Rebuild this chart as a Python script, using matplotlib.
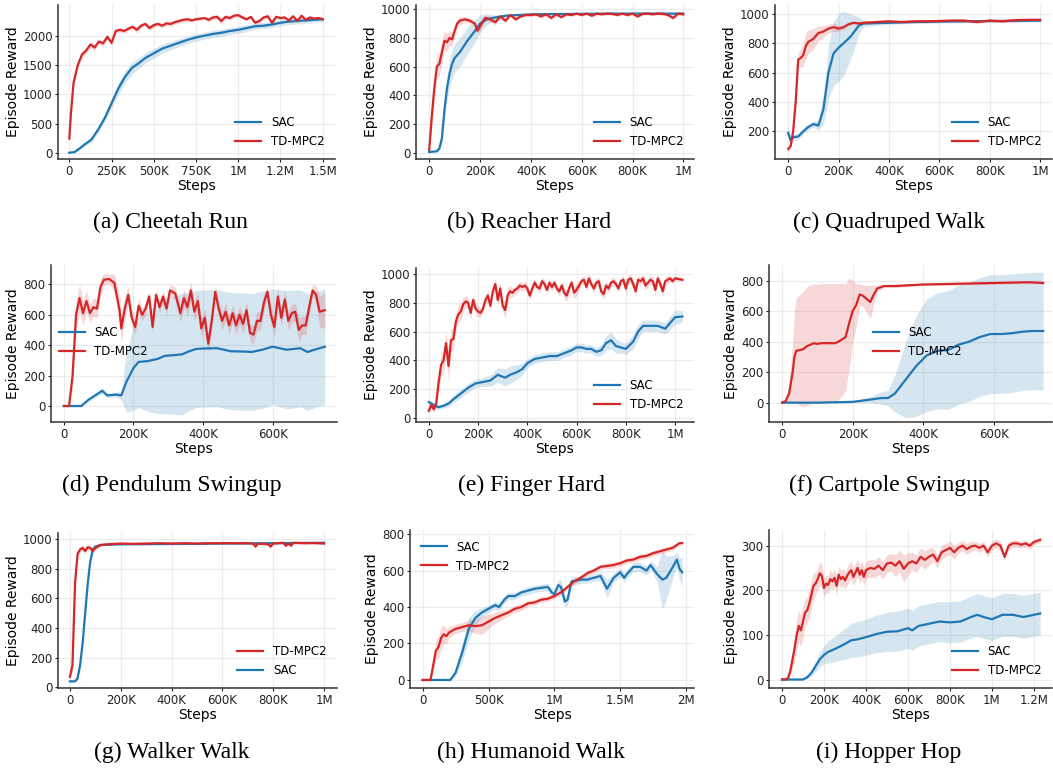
import matplotlib
matplotlib.use("Agg")
import matplotlib.pyplot as plt
from matplotlib.ticker import FuncFormatter
import numpy as np

# each series: (step in K, mean reward, half width of the shaded band)
cheetah_sac = [(0,10,5),(30,20,10),(60,80,20),(90,150,30),(130,230,40),(170,400,50),(210,600,60),(250,850,80),
               (290,1100,100),(330,1300,100),(370,1450,100),(410,1530,90),(450,1620,90),(500,1700,80),(550,1780,80),
               (600,1830,70),(650,1880,70),(700,1930,60),(750,1970,60),(800,2000,60),(850,2030,60),(900,2050,60),
               (950,2080,60),(1000,2100,60),(1050,2130,60),(1100,2160,50),(1150,2170,50),(1200,2190,50),
               (1250,2220,50),(1300,2240,50),(1350,2250,50),(1400,2260,50),(1450,2270,40),(1500,2280,40)]
cheetah_td = [(0,250,20),(10,700,60),(25,1200,80),(50,1500,60),(75,1680,50),(100,1750,50),(125,1850,60),(150,1800,50),
              (175,1900,40),(200,1870,50),(225,1980,40),(250,1880,50),(275,2080,40),(300,2100,40),(325,2080,40),
              (350,2120,40),(375,2150,40),(400,2100,50),(425,2170,40),(450,2200,40),(475,2130,50),(500,2180,40),
              (525,2200,40),(550,2170,40),(575,2210,40),(600,2200,40),(625,2230,40),(650,2250,40),(675,2270,40),
              (700,2280,30),(725,2260,30),(750,2280,30),(775,2290,30),(800,2300,30),(825,2270,40),(850,2310,40),
              (875,2320,40),(900,2250,60),(925,2320,40),(950,2300,40),(975,2340,30),(1000,2350,30),(1025,2310,30),
              (1050,2280,30),(1075,2320,30),(1100,2220,40),(1125,2250,40),(1150,2310,40),(1175,2330,30),
              (1200,2220,40),(1225,2320,30),(1250,2300,30),(1275,2310,30),(1300,2260,30),(1325,2330,30),
              (1350,2250,30),(1375,2340,30),(1400,2270,30),(1425,2310,30),(1450,2290,30),(1475,2300,30),(1500,2280,20)]

reacher_sac = [(0,5,5),(30,10,5),(40,30,10),(50,100,30),(60,300,60),(70,450,80),(80,550,100),(90,620,100),
               (100,660,100),(120,700,100),(150,780,90),(180,850,80),(200,900,60),(225,930,40),(250,940,20),
               (300,955,10),(350,960,5),(400,965,5),(500,967,5),(600,968,5),(700,970,5),(800,970,5),(900,970,5),(1000,970,5)]
reacher_td = [(0,20,10),(10,250,80),(20,450,80),(30,600,80),(40,620,80),(50,700,80),(60,780,70),(70,770,60),(80,800,50),
              (90,790,50),(100,850,40),(110,900,30),(120,920,30),(140,930,20),(160,920,20),(180,900,20),(190,850,20),
              (200,880,30),(220,940,20),(240,930,20),(260,910,20),(280,950,15),(300,920,15),(320,960,10),(340,930,15),
              (360,950,10),(380,960,10),(400,960,10),(420,965,10),(440,950,10),(460,965,10),(480,940,15),(500,965,10),
              (520,945,10),(540,965,10),(560,960,10),(580,970,10),(600,960,10),(620,970,10),(640,955,10),(660,970,10),
              (680,965,10),(700,970,10),(720,968,10),(740,960,10),(760,970,10),(780,960,10),(800,970,10),(820,950,10),
              (840,968,10),(860,970,10),(880,965,10),(900,970,10),(920,968,10),(940,960,10),(960,940,15),(980,970,10),
              (1000,965,10)]

quad_sac = [(0,190,40),(10,140,30),(20,160,20),(40,165,20),(60,200,20),(80,230,20),(100,250,20),(120,240,30),
            (140,350,100),(160,600,180),(180,730,220),(200,770,230),(220,800,220),(250,850,150),(280,920,60),
            (300,935,20),(400,940,10),(500,945,10),(600,948,10),(700,950,10),(800,952,10),(900,953,10),(1000,955,10)]
quad_td = [(0,80,15),(10,100,20),(20,200,30),(30,400,40),(40,690,50),(50,700,60),(60,720,80),(70,780,90),(80,810,80),
           (100,830,70),(120,870,50),(140,880,40),(160,900,30),(180,910,30),(200,900,20),(220,910,15),(240,930,10),
           (260,940,10),(280,935,10),(300,940,10),(350,945,10),(400,950,10),(450,945,10),(500,950,10),(550,950,10),
           (600,952,10),(650,955,10),(700,955,10),(750,945,10),(800,955,10),(850,950,10),(900,958,10),(950,960,10),
           (1000,960,10)]

pend_sac = [(0,0,0),(50,0,5),(70,40,10),(90,70,15),(110,100,20),(125,70,15),(150,75,15),(165,70,30),(180,160,200),
            (200,250,280),(215,290,300),(240,295,330),(270,310,360),(290,330,380),(320,335,390),(340,340,400),
            (360,360,390),(380,375,385),(400,378,385),(440,380,385),(480,360,385),(520,358,385),(540,355,385),
            (570,370,385),(600,390,380),(640,370,390),(680,380,385),(700,355,385),(720,370,380),(750,390,380)]
pend_td = [(0,0,0),(15,0,5),(25,200,60),(35,600,100),(45,710,90),(55,610,80),(65,690,70),(75,610,60),(85,650,60),
           (95,640,60),(105,780,60),(115,830,40),(130,835,30),(145,810,60),(160,630,100),(165,510,90),(175,640,80),
           (185,730,60),(195,580,60),(205,520,50),(215,660,50),(225,600,40),(235,640,40),(245,720,40),(255,520,40),
           (265,730,40),(275,650,40),(285,720,40),(295,640,40),(305,760,40),(320,740,40),(335,610,60),(345,710,60),
           (355,650,60),(365,760,60),(375,620,60),(385,690,60),(395,510,60),(405,580,60),(415,410,60),(425,560,60),
           (435,750,40),(445,640,60),(455,560,60),(465,620,60),(475,530,60),(485,610,60),(495,530,60),(505,600,60),
           (515,540,60),(525,630,60),(535,480,60),(545,470,60),(555,560,60),(565,560,60),(575,680,60),(585,750,40),
           (595,600,60),(605,520,60),(615,720,60),(625,580,60),(635,700,60),(645,560,60),(655,610,60),(665,620,60),
           (675,500,80),(685,530,60),(695,530,60),(705,650,60),(715,760,40),(725,730,60),(735,620,100),(750,630,120)]

finger_sac = [(0,110,20),(20,90,20),(40,75,15),(60,85,15),(80,100,20),(100,130,25),(130,170,30),(160,210,30),
              (190,240,30),(220,250,30),(250,260,40),(280,300,50),(310,280,60),(330,300,60),(360,320,50),(380,340,40),
              (400,380,30),(430,410,30),(460,420,30),(490,430,30),(520,430,30),(550,450,30),(580,470,30),(600,490,30),
              (620,490,30),(640,480,30),(660,480,30),(680,460,30),(700,470,40),(720,520,50),(740,540,60),(760,500,50),
              (780,490,40),(800,480,40),(830,530,50),(850,600,50),(870,640,40),(900,640,40),(930,640,40),(960,620,40),
              (990,680,50),(1000,700,50),(1030,705,40)]
finger_td = [(0,50,10),(10,90,20),(20,60,20),(30,100,30),(40,250,60),(50,370,80),(60,400,80),(70,520,80),(80,360,100),
             (90,540,80),(100,550,80),(110,670,60),(120,720,60),(130,740,60),(140,790,50),(150,810,40),(160,800,40),
             (170,730,40),(180,820,40),(190,760,40),(200,740,40),(210,730,30),(220,760,30),(230,820,40),(240,850,40),
             (250,780,40),(260,880,40),(270,930,40),(280,820,40),(290,900,40),(300,780,40),(310,750,60),(320,850,60),
             (330,880,40),(340,870,30),(350,890,30),(360,900,30),(370,920,30),(380,910,30),(390,920,30),(400,900,30),
             (410,850,30),(420,900,30),(430,940,30),(440,910,30),(450,900,30),(460,950,30),(470,930,30),(480,890,30),
             (490,940,30),(500,910,30),(510,940,30),(520,900,30),(530,880,30),(540,920,30),(550,870,40),(560,850,40),
             (570,900,40),(580,940,30),(590,870,40),(600,890,40),(610,920,30),(620,950,30),(630,960,30),(640,910,30),
             (650,970,30),(660,930,30),(670,900,30),(680,940,30),(690,950,30),(700,880,30),(710,860,30),(720,920,30),
             (730,900,30),(740,940,30),(750,950,30),(760,930,30),(770,900,30),(780,950,30),(790,960,30),(800,900,40),
             (810,960,30),(820,970,30),(830,930,30),(840,880,40),(850,960,30),(860,950,30),(870,970,30),(880,920,30),
             (890,940,30),(900,960,30),(910,950,30),(920,890,40),(930,970,30),(940,930,30),(950,880,40),(960,950,30),
             (970,960,30),(980,970,20),(990,950,20),(1000,970,20),(1030,960,10)]

cart_sac = [(0,0,0),(100,0,0),(200,5,5),(250,20,20),(280,30,40),(300,30,50),(320,60,120),(350,150,250),(380,240,330),
            (410,310,370),(440,340,380),(470,345,390),(500,380,390),(530,400,390),(560,430,390),(590,450,390),
            (620,450,390),(650,455,390),(680,465,385),(710,470,385),(740,470,385)]
cart_td = [(0,0,0),(10,10,10),(20,60,60),(30,200,200),(35,300,300),(40,340,345),(60,350,380),(70,370,390),
           (80,380,390),(90,390,390),(100,385,390),(110,390,390),(130,390,390),(150,390,390),(160,400,380),
           (170,415,370),(180,430,350),(190,520,300),(200,600,200),(210,640,140),(220,710,70),(230,700,70),
           (240,680,90),(250,660,110),(260,710,60),(270,750,20),(290,765,10),(320,765,10),(400,775,8),(500,780,8),
           (600,785,8),(700,790,8),(740,785,8)]

walker_td = [(0,70,10),(10,150,40),(20,700,60),(30,900,30),(40,930,20),(50,940,20),(60,920,20),(70,945,15),(80,940,15),
             (90,920,20),(100,940,15),(120,960,10),(150,965,5),(200,970,5),(250,968,5),(300,970,5),(350,972,5),
             (400,970,5),(450,972,5),(500,970,5),(550,972,5),(600,973,5),(650,972,5),(700,972,5),(720,970,5),
             (730,950,15),(740,970,5),(780,965,10),(790,950,15),(800,970,5),(840,975,5),(850,955,10),(860,970,5),
             (870,955,10),(880,975,5),(920,972,5),(960,973,5),(1000,970,5)]
walker_sac = [(0,40,5),(20,40,5),(30,60,10),(40,150,20),(50,300,30),(60,500,30),(70,700,30),(80,850,20),(90,930,15),
              (100,950,10),(120,960,5),(200,965,5),(300,966,5),(400,967,5),(500,968,5),(600,970,5),(700,971,5),
              (800,972,5),(900,974,5),(1000,975,5)]

human_sac = [(0,0,0),(210,0,0),(250,40,20),(300,150,50),(350,280,60),(400,340,40),(450,370,25),(500,390,20),
             (550,410,20),(580,400,20),(620,440,20),(650,460,20),(700,460,20),(750,480,20),(800,490,20),(850,500,20),
             (900,505,20),(950,510,20),(980,480,25),(1000,470,25),(1030,520,30),(1050,510,40),(1080,430,30),
             (1100,440,30),(1130,540,25),(1200,550,20),(1250,550,20),(1300,560,20),(1350,570,25),(1400,500,50),
             (1450,560,25),(1500,590,25),(1530,560,25),(1550,580,25),(1600,620,25),(1650,620,25),(1700,600,25),
             (1730,630,25),(1780,580,40),(1820,550,160),(1850,560,120),(1900,620,60),(1930,660,40),(1950,610,60),
             (1970,590,80)]
human_td = [(0,0,0),(60,0,5),(80,80,30),(100,160,50),(120,180,60),(140,230,60),(160,250,50),(180,240,40),(200,260,30),
            (250,280,25),(300,290,25),(350,300,30),(400,295,40),(450,300,50),(500,320,40),(550,340,30),(600,355,25),
            (650,370,20),(700,390,20),(750,400,20),(800,420,15),(850,425,15),(900,440,15),(950,445,15),(1000,460,15),
            (1050,480,15),(1100,510,15),(1150,540,15),(1200,560,15),(1250,585,15),(1300,600,15),(1350,620,15),
            (1400,625,15),(1450,630,15),(1500,640,15),(1550,655,15),(1600,660,15),(1650,675,15),(1700,680,15),
            (1750,695,15),(1800,705,15),(1850,715,15),(1900,725,15),(1950,750,10),(1970,750,10)]

hopper_sac = [(0,0,0),(100,0,0),(120,5,3),(140,15,8),(160,30,12),(180,45,16),(200,55,20),(220,62,25),(250,68,28),
              (280,75,32),(300,80,35),(330,88,38),(360,90,40),(400,95,40),(450,102,42),(500,107,44),(550,108,45),
              (600,115,45),(620,110,45),(650,120,45),(700,125,45),(750,130,45),(800,128,46),(850,130,46),(900,140,47),
              (930,145,48),(960,140,48),(1000,135,48),(1050,145,48),(1100,145,48),(1150,140,48),(1200,145,48),
              (1230,148,48)]
hopper_td = [(0,0,0),(20,0,2),(30,5,5),(40,20,10),(50,45,20),(60,70,30),(70,100,35),(80,120,35),(90,110,35),
             (100,130,35),(110,150,30),(120,155,30),(130,170,30),(140,190,30),(150,210,30),(160,215,25),(170,225,25),
             (180,238,25),(190,232,25),(200,205,20),(210,215,20),(220,212,20),(230,225,20),(240,220,20),(250,228,20),
             (260,210,20),(270,235,20),(280,225,20),(290,230,20),(300,222,20),(310,232,20),(320,240,20),(330,245,20),
             (340,230,20),(350,240,20),(360,250,20),(370,235,20),(380,245,20),(390,230,20),(400,245,20),(420,250,20),
             (440,248,20),(460,255,20),(480,245,20),(500,260,20),(520,262,20),(540,255,25),(560,265,25),(580,248,30),
             (600,260,25),(620,265,20),(640,260,20),(660,275,20),(680,268,20),(700,275,20),(720,280,15),(740,265,15),
             (760,285,15),(780,290,15),(800,295,15),(820,285,15),(840,295,12),(860,300,12),(880,292,12),(900,298,12),
             (920,300,10),(940,295,10),(960,300,10),(980,285,10),(1000,300,10),(1020,305,10),(1040,300,10),
             (1060,275,10),(1080,300,10),(1100,305,8),(1120,305,8),(1140,302,8),(1160,305,8),(1180,300,8),
             (1200,308,6),(1230,313,6)]

captions = ["(a) Cheetah Run", "(b) Reacher Hard", "(c) Quadruped Walk", "(d) Pendulum Swingup", "(e) Finger Hard",
            "(f) Cartpole Swingup", "(g) Walker Walk", "(h) Humanoid Walk", "(i) Hopper Hop"]

SAC_COLOR = '#1f77b4'
TD_COLOR = '#d62728'
W, H = 1053, 770

# (series, axes box px [l, t, r, b], xlim, ylim, xticks, yticks, legend placement, td first in legend)
panels = [
    ([cheetah_sac, cheetah_td], [58, 5, 335, 159], (-67, 1573), (-97, 2522), range(0, 1501, 250), range(0, 2001, 500),
     dict(loc='lower right'), False),
    ([reacher_sac, reacher_td], [416, 5, 694, 159], (-52, 1042), (-44, 1030), range(0, 1001, 200), range(0, 1001, 200),
     dict(loc='lower right'), False),
    ([quad_sac, quad_td], [775, 5, 1052, 159], (-52, 1047), (12, 1061), range(0, 1001, 200), range(200, 1001, 200),
     dict(loc='lower right'), False),
    ([pend_sac, pend_td], [51, 265, 337, 422], (-37, 785), (-105, 927), range(0, 601, 200), range(0, 801, 200),
     dict(loc='center left', bbox_to_anchor=(-0.01, 0.51)), False),
    ([finger_sac, finger_td], [416, 268, 694, 422], (-52, 1077), (-28, 1042), range(0, 1001, 200), range(0, 1001, 200),
     dict(loc='lower right'), False),
    ([cart_sac, cart_td], [769, 265, 1052, 422], (-37, 765), (-127, 903), range(0, 601, 200), range(0, 801, 200),
     dict(loc='center left', bbox_to_anchor=(0.33, 0.51)), False),
    ([walker_sac, walker_td], [58, 533, 337, 688], (-47, 1051), (-5, 1041), range(0, 1001, 200), range(0, 1001, 200),
     dict(loc='lower right'), True),
    ([human_sac, human_td], [410, 530, 694, 688], (-96, 2060), (-44, 822), range(0, 2001, 500), range(0, 801, 200),
     dict(loc='upper left'), False),
    ([hopper_sac, hopper_td], [769, 530, 1052, 688], (-62, 1286), (-19, 335), range(0, 1201, 200), range(0, 301, 100),
     dict(loc='lower right'), False),
]
caption_pos = [(170, 222), (529, 222), (889, 222), (172, 485), (531, 485), (889, 485), (172, 752), (531, 752), (889, 752)]


def step_fmt(v, pos):
    if v == 0:
        return '0'
    if v < 1000:
        return '{}K'.format(int(v))
    s = '{:.1f}'.format(v / 1000).rstrip('0').rstrip('.')
    return s + 'M'


fig = plt.figure(figsize=(W / 100, H / 100), dpi=100)

for (series, box, xl, yl, xt, yt, leg, td_first), cap, cpos in zip(panels, captions, caption_pos):
    l, t, r, b = box
    ax = fig.add_axes([l / W, 1 - b / H, (r - l) / W, (b - t) / H])
    handles = {}
    for data, name, color in [(series[0], 'SAC', SAC_COLOR), (series[1], 'TD-MPC2', TD_COLOR)]:
        arr = np.array(data, dtype=float)
        x, y, w = arr[:, 0], arr[:, 1], arr[:, 2]
        ax.fill_between(x, y - w, y + w, color=color, alpha=0.18, lw=0)
        handles[name], = ax.plot(x, y, color=color, lw=1.6, label=name)
    order = ['TD-MPC2', 'SAC'] if td_first else ['SAC', 'TD-MPC2']
    ax.legend([handles[k] for k in order], order, frameon=False, fontsize=8.5, handlelength=2.2, **leg)
    ax.set_xlim(*xl)
    ax.set_ylim(*yl)
    ax.set_xticks(list(xt))
    ax.set_yticks(list(yt))
    ax.xaxis.set_major_formatter(FuncFormatter(step_fmt))
    ax.grid(True, color='#ececec', lw=0.8)
    ax.set_axisbelow(True)
    for s in ['top', 'right']:
        ax.spines[s].set_visible(False)
    for s in ['left', 'bottom']:
        ax.spines[s].set_color('#333333')
        ax.spines[s].set_linewidth(1.1)
    ax.tick_params(length=2, labelsize=8.5, colors='#222222', pad=2)
    ax.set_xlabel('Steps', fontsize=10, labelpad=1)
    ax.set_ylabel('Episode Reward', fontsize=10, labelpad=2)
    fig.text(cpos[0] / W, 1 - cpos[1] / H, cap, ha='center', va='center',
             family='Liberation Serif', fontsize=17)

fig.savefig('out.png', dpi=100)
